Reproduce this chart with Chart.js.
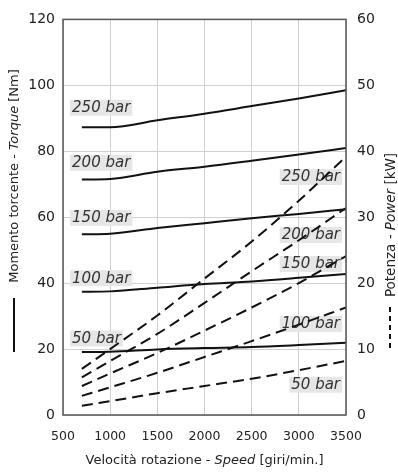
<!DOCTYPE html>
<html>
<head>
<meta charset="utf-8">
<script src="https://cdn.jsdelivr.net/npm/chart.js@4"></script>
<style>
  html, body { margin: 0; padding: 0; background: #fff; }
</style>
</head>
<body>
<canvas id="chart" width="398" height="473"></canvas>
<script>
// speed values (giri/min.) where the curves were read
const speeds = [700, 1000, 1500, 2000, 2500, 3000, 3500];

// torque [Nm] per pressure
const torque50 = [19.1, 19.2, 19.9, 20.3, 20.6, 21.2, 21.9];
const torque100 = [37.4, 37.5, 38.6, 39.7, 40.5, 41.6, 42.8];
const torque150 = [54.8, 55.0, 56.7, 58.2, 59.7, 61.0, 62.4];
const torque200 = [71.4, 71.6, 73.8, 75.3, 77.1, 79.0, 81.0];
const torque250 = [87.3, 87.3, 89.4, 91.4, 93.7, 96.0, 98.5];

// power [kW] per pressure
const power50 = [1.4, 2.1, 3.3, 4.4, 5.5, 6.8, 8.2];
const power100 = [2.9, 4.2, 6.4, 8.8, 11.2, 13.7, 16.3];
const power150 = [4.4, 6.3, 9.4, 12.8, 16.3, 20.0, 24.1];
const power200 = [5.7, 8.2, 12.3, 17.0, 21.8, 26.5, 31.4];
const power250 = [7.0, 10.0, 15.1, 20.7, 26.3, 32.5, 39.2];

const pressureLabels = ["50 bar", "100 bar", "150 bar", "200 bar", "250 bar"];

const xTicks = [500, 1000, 1500, 2000, 2500, 3000, 3500];
const torqueTicks = [0, 20, 40, 60, 80, 100, 120];
const powerTicks = [0, 10, 20, 30, 40, 50, 60];

const FONT = "'DejaVu Sans', Verdana, sans-serif";

// where the "xx bar" tags sit (data coordinates)
const leftTagX = 575;
const leftTagY = [23.2, 41.5, 59.8, 76.5, 93.2];   // torque axis
const rightTagX = 3458;
const rightTagY = [4.6, 13.8, 22.9, 27.3, 36.1];   // power axis

function toPoints(ys) {
  return ys.map((y, i) => ({ x: speeds[i], y: y }));
}

const torqueSets = [torque50, torque100, torque150, torque200, torque250];
const powerSets = [power50, power100, power150, power200, power250];

const datasets = [];
torqueSets.forEach((t, i) => {
  datasets.push({
    label: "Torque " + pressureLabels[i],
    data: toPoints(t),
    yAxisID: "y",
    borderColor: "#111",
    borderWidth: 2,
    pointRadius: 0,
    cubicInterpolationMode: "monotone",
  });
});
powerSets.forEach((p, i) => {
  datasets.push({
    label: "Power " + pressureLabels[i],
    data: toPoints(p),
    yAxisID: "y1",
    borderColor: "#111",
    borderWidth: 2,
    borderDash: [11, 6],
    pointRadius: 0,
    cubicInterpolationMode: "monotone",
  });
});

// draws a string made of normal / italic pieces, centred at (0,0)
function drawParts(ctx, parts, size) {
  let total = 0;
  const widths = parts.map((p) => {
    ctx.font = (p.italic ? "italic " : "") + size + "px " + FONT;
    const w = ctx.measureText(p.text).width;
    total += w;
    return w;
  });
  let x = -total / 2;
  parts.forEach((p, i) => {
    ctx.font = (p.italic ? "italic " : "") + size + "px " + FONT;
    ctx.fillText(p.text, x, 0);
    x += widths[i];
  });
}

const tagPlugin = {
  id: "tags",
  beforeDatasetsDraw(chart) {
    const ctx = chart.ctx;
    const xs = chart.scales.x;
    const ys = chart.scales.y;
    const ys1 = chart.scales.y1;
    ctx.save();
    ctx.font = "italic 15px " + FONT;
    ctx.textBaseline = "middle";
    pressureLabels.forEach((lab, i) => {
      const w = ctx.measureText(lab).width + 4;
      // left tag (torque)
      let px = xs.getPixelForValue(leftTagX);
      let py = ys.getPixelForValue(leftTagY[i]);
      ctx.fillStyle = "#e6e6e6";
      ctx.fillRect(px, py - 8, w, 16);
      ctx.fillStyle = "#333";
      ctx.textAlign = "left";
      ctx.fillText(lab, px + 2, py + 0.5);
      // right tag (power)
      px = xs.getPixelForValue(rightTagX);
      py = ys1.getPixelForValue(rightTagY[i]);
      ctx.fillStyle = "#e6e6e6";
      ctx.fillRect(px - w, py - 8, w, 16);
      ctx.fillStyle = "#333";
      ctx.textAlign = "right";
      ctx.fillText(lab, px - 2, py + 0.5);
    });
    ctx.restore();
  },
  afterDraw(chart) {
    const ctx = chart.ctx;
    const a = chart.chartArea;
    ctx.save();
    // frame round the plot
    ctx.strokeStyle = "#555";
    ctx.lineWidth = 1.5;
    ctx.strokeRect(a.left, a.top, a.right - a.left, a.bottom - a.top);

    ctx.fillStyle = "#222";
    ctx.textBaseline = "middle";
    ctx.textAlign = "left";

    // x title
    ctx.save();
    ctx.translate((a.left + a.right) / 2, 461);
    drawParts(ctx, [
      { text: "Velocità rotazione - " },
      { text: "Speed", italic: true },
      { text: " [giri/min.]" },
    ], 13);
    ctx.restore();

    // left title
    ctx.save();
    ctx.translate(15, 176);
    ctx.rotate(-Math.PI / 2);
    drawParts(ctx, [
      { text: "Momento torcente - " },
      { text: "Torque", italic: true },
      { text: " [Nm]" },
    ], 13);
    ctx.restore();

    // right title
    ctx.save();
    ctx.translate(391, 225);
    ctx.rotate(-Math.PI / 2);
    drawParts(ctx, [
      { text: "Potenza - " },
      { text: "Power", italic: true },
      { text: " [kW]" },
    ], 13.5);
    ctx.restore();

    // line style keys under the titles
    ctx.strokeStyle = "#111";
    ctx.lineWidth = 2;
    ctx.beginPath();
    ctx.moveTo(14, 298);
    ctx.lineTo(14, 352);
    ctx.stroke();
    ctx.setLineDash([5, 4]);
    ctx.beginPath();
    ctx.moveTo(390, 307);
    ctx.lineTo(390, 352);
    ctx.stroke();
    ctx.restore();
  },
};

const ctx = document.getElementById("chart").getContext("2d");
const chart = new Chart(ctx, {
  type: "line",
  data: { datasets: datasets },
  options: {
    responsive: false,
    animation: false,
    devicePixelRatio: 1,
    layout: { padding: { top: 16, left: 0, right: 0, bottom: 0 } },
    plugins: { legend: { display: false }, tooltip: { enabled: false } },
    scales: {
      x: {
        type: "linear",
        min: xTicks[0],
        max: xTicks[xTicks.length - 1],
        afterBuildTicks: (s) => { s.ticks = xTicks.map((v) => ({ value: v })); },
        afterFit: (s) => { s.height = 58; },
        ticks: {
          callback: (v) => String(v),
          color: "#222",
          font: { family: FONT, size: 12.5 },
          padding: 14,
          maxRotation: 0,
        },
        grid: { color: "#d0d0d0", drawTicks: false },
        border: { display: false },
      },
      y: {
        position: "left",
        min: torqueTicks[0],
        max: torqueTicks[torqueTicks.length - 1],
        afterBuildTicks: (s) => { s.ticks = torqueTicks.map((v) => ({ value: v })); },
        afterFit: (s) => { s.width = 63; },
        ticks: {
          callback: (v) => String(v),
          color: "#222",
          font: { family: FONT, size: 14 },
          padding: 8,
        },
        grid: { color: "#d0d0d0", drawTicks: false },
        border: { display: false },
      },
      y1: {
        position: "right",
        min: powerTicks[0],
        max: powerTicks[powerTicks.length - 1],
        afterBuildTicks: (s) => { s.ticks = powerTicks.map((v) => ({ value: v })); },
        afterFit: (s) => { s.width = 52; },
        ticks: {
          callback: (v) => String(v),
          color: "#222",
          font: { family: FONT, size: 14 },
          padding: 11,
        },
        grid: { display: false, drawTicks: false },
        border: { display: false },
      },
    },
  },
  plugins: [tagPlugin],
});
</script>
</body>
</html>
